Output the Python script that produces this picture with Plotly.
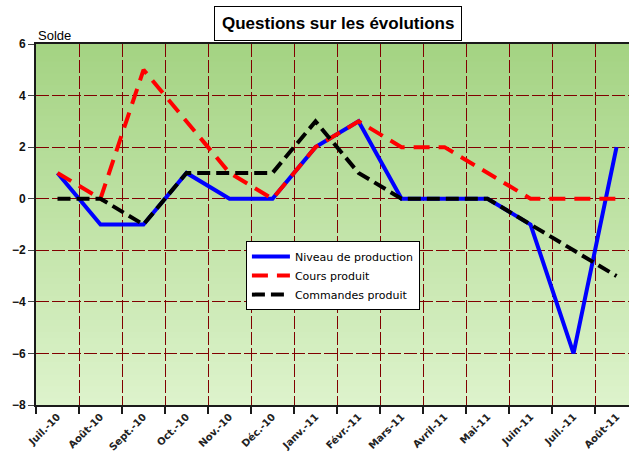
import plotly.graph_objects as go

months = ["Juil.-10", "Août-10", "Sept.-10", "Oct.-10", "Nov.-10", "Déc.-10", "Janv.-11",
          "Févr.-11", "Mars-11", "Avril-11", "Mai-11", "Juin-11", "Juil.-11", "Août-11"]
niveau_production = [1, -1, -1, 1, 0, 0, 2, 3, 0, 0, 0, -1, -6, 2]
cours_produit = [1, 0, 5, 3, 1, 0, 2, 3, 2, 2, 1, 0, 0, 0]
commandes_produit = [0, 0, -1, 1, 1, 1, 3, 1, 0, 0, 0, -1, -2, -3]
y_ticks = [6, 4, 2, 0, -2, -4, -6, -8]

fig = go.Figure()
fig.add_trace(go.Scatter(x=months, y=niveau_production, mode="lines", name="Niveau de production",
                         line=dict(color="#0000FF", width=4)))
fig.add_trace(go.Scatter(x=months, y=cours_produit, mode="lines", name="Cours produit",
                         line=dict(color="#FF0000", width=4, dash="16px,9px")))
fig.add_trace(go.Scatter(x=months, y=commandes_produit, mode="lines", name="Commandes produit",
                         line=dict(color="#000000", width=4, dash="13px,6px")))

# gradient background bands
top = (164, 211, 131)
bot = (221, 243, 203)
n = 60
for i in range(n):
    t = i / (n - 1)
    c = tuple(round(top[k] + (bot[k] - top[k]) * t) for k in range(3))
    fig.add_shape(type="rect", xref="x domain", yref="y domain",
                  x0=0, x1=1, y0=1 - (i + 1) / n, y1=1 - i / n + 0.002,
                  fillcolor="rgb(%d,%d,%d)" % c, line=dict(width=0), layer="below")

grid_col = "#800000"
fig.update_layout(
    width=629, height=457,
    margin=dict(l=36, r=0, t=44, b=52),
    paper_bgcolor="white", plot_bgcolor="rgb(200,230,170)",
    showlegend=True,
    legend=dict(x=0.354, y=0.454, xanchor="left", yanchor="top",
                bgcolor="white", bordercolor="black", borderwidth=1,
                font=dict(family="DejaVu Sans", size=11, color="black"),
                itemwidth=38, tracegroupgap=0,
                entrywidth=132, entrywidthmode="pixels"),
    xaxis=dict(type="category", range=[-0.5, 13.29], tickson="boundaries",
               showgrid=True, gridcolor=grid_col, gridwidth=1, griddash="13px,3px",
               showline=True, linecolor="#1a1a1a", linewidth=2, mirror=True,
               ticks="outside", ticklen=7, tickcolor="#1a1a1a", tickwidth=2,
               tickangle=-45, automargin=False,
               tickfont=dict(family="DejaVu Sans", size=10, color="#222", weight="bold")),
    yaxis=dict(range=[-8, 6], tickvals=y_ticks, showgrid=True, gridcolor=grid_col,
               gridwidth=1, griddash="13px,3px", zeroline=False, automargin=False,
               showline=True, linecolor="#1a1a1a", linewidth=2,
               ticks="outside", ticklen=6, tickcolor="#444", tickwidth=1,
               tickfont=dict(family="Liberation Sans", size=12, color="#111", weight="bold")),
    annotations=[
        dict(text="<b>Questions sur les évolutions</b>", xref="paper", yref="paper",
             x=0.51, y=1.0, yshift=21, xanchor="center", yanchor="middle", showarrow=False,
             font=dict(family="Liberation Sans", size=17, color="black"),
             bordercolor="black", borderwidth=1, borderpad=7, bgcolor="white"),
        dict(text="Solde", xref="paper", yref="paper", x=0, y=1.0, xanchor="left",
             yanchor="bottom", showarrow=False, yshift=-1,
             font=dict(family="Liberation Sans", size=13, color="black")),
    ],
)

fig.write_html("out.html", config={"displayModeBar": False},
               post_script="document.body.style.margin='0';document.body.style.overflow='hidden';")
